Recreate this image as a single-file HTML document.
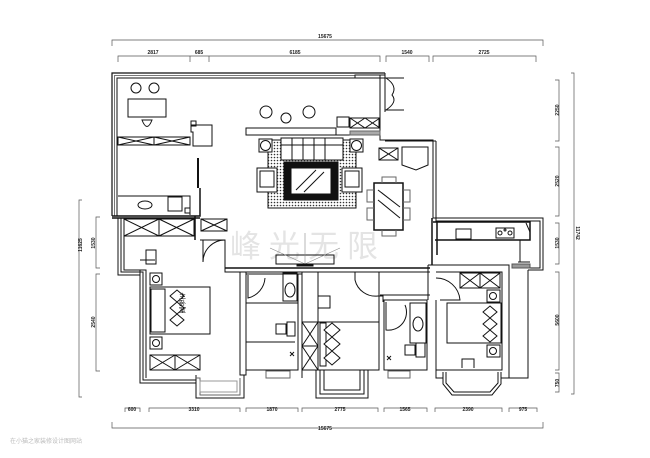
<!DOCTYPE html>
<html><head><meta charset="utf-8"><style>
html,body{margin:0;padding:0;background:#fff;width:650px;height:458px;overflow:hidden}
svg{display:block}
text{font-family:"Liberation Sans",sans-serif}
</style></head><body>
<svg width="650" height="458" viewBox="0 0 650 458" xmlns="http://www.w3.org/2000/svg">
<defs>
<pattern id="dots" width="3" height="3" patternUnits="userSpaceOnUse"><rect width="3" height="3" fill="#fff"/><circle cx="1.5" cy="1.5" r="0.8" fill="#333"/></pattern>
</defs>
<g stroke="#555" stroke-width="0.7" fill="none">
<path d="M112,46V40H543V46"/>
<path d="M118,62V56H190V62M190,56H209V62M209,56H380V62M386,62V56H429V62M433,62V56H536V62"/>
<path d="M125,412V408H140V412M149,412V408H240V412M246,412V408H298V412M302,412V408H378V412M384,412V408H427V412M435,412V408H502V412M509,412V408H537V412"/>
<path d="M112,422V428H543V422"/>
<path d="M82,200H79V397H82M100,217H96V268H100M100,274H96V371H100"/>
<path d="M555,80H559V141H555M555,147H559V216H555M555,223H559V264H555M555,272H559V370H555M555,373H559V392H555M571,73H574V394H571"/>
</g>
<g font-size="5" font-weight="bold" fill="#222" text-anchor="middle">
<text x="325" y="38">15675</text>
<text x="153" y="54">2817</text><text x="199" y="54">685</text><text x="295" y="54">6185</text><text x="407" y="54">1540</text><text x="484" y="54">2725</text>
<text x="132" y="411">600</text><text x="194" y="411">3310</text><text x="272" y="411">1870</text><text x="340" y="411">2775</text><text x="405" y="411">1565</text><text x="468" y="411">2390</text><text x="523" y="411">975</text>
<text x="325" y="430">15675</text>
<text transform="translate(82,245) rotate(-90)">11625</text>
<text transform="translate(95,243) rotate(-90)">1530</text>
<text transform="translate(95,322) rotate(-90)">2540</text>
<text transform="translate(559,110) rotate(-90)">2250</text>
<text transform="translate(559,181) rotate(-90)">2520</text>
<text transform="translate(559,243) rotate(-90)">1530</text>
<text transform="translate(559,320) rotate(-90)">5600</text>
<text transform="translate(559,383) rotate(-90)">750</text>
<text transform="translate(576,233) rotate(90)">11742</text>
</g>
<text x="308" y="257" font-size="31" fill="#e4e4e4" text-anchor="middle" font-family="'Liberation Sans','Noto Sans CJK SC',sans-serif" letter-spacing="8">峰光无限</text>
<text x="10" y="443" font-size="6" fill="#bbb" font-family="'Liberation Sans','Noto Sans CJK SC',sans-serif">在小猫之家装修设计图网站</text>

<g stroke="#111" stroke-width="1" fill="none">
<path d="M112,216V73H385" stroke-width="1.2"/>
<path d="M114.5,216V75.5H355" stroke="#777"/>
<path d="M117,216V78H385"/>
<rect x="355" y="75" width="30" height="3" fill="#fff"/>
<path d="M385,73V112M380,112V140H433V218H543V270H528" />
<path d="M385,78V112M385,141H436"/>
<path d="M385,75H380V112"/>
<path d="M385,78H404M385,110H404M386,78Q398,86 392,95Q398,102 386,110"/>
<path d="M436,141V221H540V268H528"/>
<path d="M528,270V378H509"/>
<path d="M433,222H530V240H435M437,222V255M432,218V265" stroke-width="1.5"/>
<path d="M520,240V262M518,262H530" />
<rect x="512" y="264" width="18" height="4" fill="#999" stroke="#555"/>
<rect x="456" y="229" width="15" height="10"/><rect x="496" y="228" width="18" height="10"/>
<circle cx="500" cy="233" r="2"/><circle cx="510" cy="233" r="2"/><circle cx="505" cy="230" r="1"/>
<path d="M526,223L530,232V240"/>
<path d="M112,216H200V188M112,218H200M195,216V240" stroke-width="1.5"/>
<path d="M118,196H190V215M118,145H190"/>
<rect x="118" y="137" width="72" height="8"/><path d="M118,137L154,145M154,137L118,145M154,137L190,145M190,137L154,145M154,137V145"/>
<ellipse cx="145" cy="205" rx="7" ry="4"/><rect x="168" y="197" width="14" height="14"/><rect x="185" y="208" width="5" height="5"/>
<rect x="128" y="99" width="38" height="18"/><circle cx="136" cy="88" r="5"/><circle cx="154" cy="88" r="5"/>
<path d="M142,120Q147,133 152,120Z"/>
<path d="M191,125H212V146H193V132H191Z"/><rect x="191" y="121" width="5" height="5"/>
<path d="M198,158V188" stroke-width="2"/>
<path d="M118,218V275H140V383H196M121,218V272H143V380H196M124,218V270H146V378"/>
<rect x="124" y="219" width="70" height="17"/><path d="M124,219L159,236M159,219L124,236M159,219L194,236M194,219L159,236M159,219V236"/>
<rect x="201" y="219" width="26" height="12"/><path d="M201,219L227,231M227,219L201,231"/>
<path d="M200,240H225V272H240M203,240V262A22,22 0 0 1 225,240" />
<path d="M225,268H430" stroke-width="1.5"/>
<path d="M230,272H430"/>
<rect x="276" y="255" width="58" height="9"/><path d="M305,233V264M305,264L270,248M305,264L340,248" stroke="#888" stroke-width="0.6"/><rect x="297" y="264" width="16" height="2" fill="#111"/>
<path d="M240,272V375H246V272M240,375H244V398H196V375" />
<path d="M196,378H200V395H240V378" stroke="#666"/>
<path d="M200,381H237V392H200Z" stroke="#999"/>
<rect x="150" y="287" width="60" height="47"/><rect x="151" y="289" width="14" height="43"/>
<path d="M170,296l7,-6 7,6 -7,6zM170,308l7,-6 7,6 -7,6zM170,320l7,-6 7,6 -7,6z" fill="#fff"/>
<rect x="150" y="273" width="12" height="12"/><circle cx="156" cy="279" r="3.5"/>
<rect x="150" y="337" width="12" height="12"/><circle cx="156" cy="343" r="3.5"/>
<rect x="150" y="355" width="50" height="15"/><path d="M150,355L175,370M175,355L150,370M175,355L200,370M200,355L175,370M175,355V370"/>
<path d="M146,250h10v14h-10z" /><path d="M140,283V270M140,260h15"/>
<path d="M246,274H298V370H246M298,274H302V378"/>
<path d="M246,303H298"/><path d="M248,275V298A22,22 0 0 0 265,278"/>
<path d="M246,342H295"/>
<rect x="283" y="273" width="14" height="28"/><ellipse cx="290" cy="290" rx="5" ry="7"/>
<rect x="276" y="324" width="10" height="10"/><rect x="287" y="322" width="8" height="14"/>
<rect x="266" y="371" width="24" height="7" stroke="#666"/>
<path d="M290,352l4,4M294,352l-4,4"/>
<path d="M302,272H379V370H302Z"/>
<path d="M318,272V370M302,322H379"/>
<path d="M302,322L318,346M318,322L302,346M302,346L318,370M318,346L302,370M302,346H318"/>
<rect x="320" y="323" width="6" height="43"/>
<path d="M324,344l8,-7 8,7 -8,7zM324,330l8,-7 8,7 -8,7zM324,358l8,-7 8,7 -8,7z" fill="#fff"/>
<path d="M318,296h12v12h-12z"/>
<path d="M355,272V280A21,21 0 0 0 378,296H383V302"/>
<path d="M316,370V398H368V370M320,370V394H364V370M324,370V390H360V370" />
<path d="M380,295H430M384,300H427V370H384Z"/>
<path d="M386,302V330A18,18 0 0 0 405,305"/>
<rect x="410" y="303" width="16" height="40"/><ellipse cx="418" cy="324" rx="5" ry="7"/>
<rect x="405" y="345" width="10" height="10"/><rect x="416" y="343" width="9" height="14"/>
<rect x="388" y="371" width="22" height="7" stroke="#666"/>
<path d="M387,356l4,4M391,356l-4,4"/>
<path d="M428,265H509V378H501M428,265V300M436,272H502V370H436V300"/>
<path d="M436,278A24,24 0 0 1 460,300H440"/>
<rect x="460" y="273" width="40" height="15"/><path d="M460,273L480,288M480,273L460,288M480,273L500,288M500,273L480,288M480,273V288"/>
<rect x="447" y="303" width="54" height="40"/>
<path d="M483,312l7,-6 7,6 -7,6zM483,324l7,-6 7,6 -7,6zM483,336l7,-6 7,6 -7,6z" fill="#fff"/>
<rect x="487" y="290" width="13" height="12"/><circle cx="493" cy="296" r="3.5"/>
<rect x="487" y="345" width="13" height="12"/><circle cx="493" cy="351" r="3.5"/>
<path d="M462,368v-9h12v9"/>
<path d="M443,372V384L452,395H492L501,384V372M446,372V383L454,392H490L498,383V372"/>
<path d="M436,370V378H443M501,378H509"/>
<rect x="246" y="128" width="90" height="7"/>
<path d="M336,135H380M350,131H380"/><rect x="350" y="131" width="30" height="4" fill="#aaa" stroke="#666"/>
<rect x="337" y="117" width="12" height="10"/>
<rect x="350" y="118" width="29" height="10"/><path d="M350,118L365,128M365,118L350,128M365,118L380,128M380,118L365,128"/>
<circle cx="266" cy="112" r="6"/><circle cx="286" cy="118" r="5"/><circle cx="309" cy="112" r="6"/>
<rect x="268" y="140" width="88" height="68" fill="url(#dots)"/>
<rect x="281" y="138" width="62" height="22" fill="#fff"/><path d="M292,138V160M303,138V160M314,138V160M325,138V160M281,145H343"/>
<rect x="284" y="162" width="54" height="38" fill="#111"/>
<rect x="291" y="168" width="40" height="26" fill="#fff"/><path d="M296,190L316,170M304,192L324,172"/>
<rect x="259" y="139" width="13" height="13" fill="#fff"/><circle cx="265.5" cy="145.5" r="5"/>
<rect x="350" y="139" width="13" height="13" fill="#fff"/><circle cx="356.5" cy="145.5" r="5"/>
<rect x="257" y="168" width="20" height="24" fill="#fff"/><rect x="260" y="171" width="14" height="16"/>
<rect x="342" y="168" width="20" height="24" fill="#fff"/><rect x="345" y="171" width="14" height="16"/>
<rect x="374" y="183" width="29" height="47" stroke-width="1.5"/>
<path d="M378,190L400,207M378,200L400,218"/>
<path d="M382,183v-6h14v6M382,230v6h14v-6M374,190h-7v12h7M374,208h-7v12h7M403,190h7v12h-7M403,208h7v12h-7" stroke="#666"/>
<rect x="379" y="148" width="19" height="12"/><path d="M379,148L398,160M398,148L379,160"/>
<path d="M402,147H428V165L416,170L402,165Z"/>
</g>
<text x="182" y="303" font-size="7" font-family="'Liberation Sans','Noto Sans CJK SC',sans-serif" fill="#111" text-anchor="middle" writing-mode="tb">主卧室</text>
</svg>
</body></html>
